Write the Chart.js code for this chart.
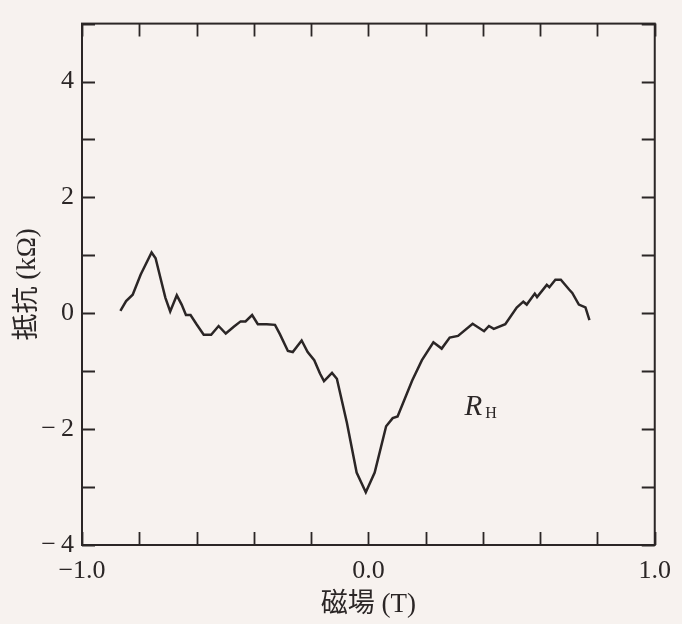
<!DOCTYPE html>
<html>
<head>
<meta charset="utf-8">
<script src="https://cdn.jsdelivr.net/npm/chart.js@4/dist/chart.umd.min.js"></script>
<style>
    html, body { margin: 0; padding: 0; background: #f7f2ef; }
    #wrap { width: 682px; height: 624px; }
</style>
</head>
<body>
<div id="wrap"><canvas id="hall_chart" width="682" height="624"></canvas></div>
<script>
// field sweep (T) and measured resistance (kΩ)
const fieldT = [
    -0.866, -0.846, -0.823, -0.795, -0.757, -0.743, -0.726, -0.709, -0.692, -0.669,
    -0.652, -0.637, -0.621, -0.600, -0.575, -0.549, -0.523, -0.498, -0.469, -0.446,
    -0.429, -0.406, -0.386, -0.355, -0.326, -0.309, -0.281, -0.264, -0.233, -0.212,
    -0.189, -0.169, -0.155, -0.127, -0.110, -0.075, -0.041, -0.009, 0.022, 0.062,
    0.085, 0.102, 0.153, 0.187, 0.227, 0.256, 0.284, 0.313, 0.364, 0.404,
    0.421, 0.438, 0.478, 0.518, 0.541, 0.553, 0.581, 0.589, 0.623, 0.632,
    0.653, 0.672, 0.701, 0.712, 0.735, 0.758, 0.772,
];
const resistance = [
    0.04, 0.21, 0.32, 0.67, 1.05, 0.95, 0.61, 0.27, 0.03, 0.31,
    0.15, -0.03, -0.03, -0.19, -0.37, -0.37, -0.22, -0.35, -0.23, -0.14,
    -0.14, -0.03, -0.19, -0.19, -0.20, -0.36, -0.65, -0.67, -0.47, -0.67,
    -0.81, -1.04, -1.17, -1.03, -1.13, -1.89, -2.75, -3.09, -2.75, -1.95,
    -1.81, -1.78, -1.16, -0.81, -0.50, -0.61, -0.42, -0.39, -0.18, -0.31,
    -0.22, -0.27, -0.19, 0.10, 0.20, 0.15, 0.34, 0.28, 0.49, 0.45,
    0.58, 0.58, 0.41, 0.35, 0.15, 0.10, -0.12,
];

// axis ranges and labelled ticks
const xRange = [-1, 1];
const yRange = [-4, 5];
const xTickLabels = { "-1": "\u22121.0", "0": "0.0", "1": "1.0" };
const yTickLabels = { "4": "4", "2": "2", "0": "0", "-2": "\u2212\u20092", "-4": "\u2212\u20094" };
const curveLabel = { x: 0.336, y: -1.76 };

const ink = "#2b2626";
const paper = "#f7f2ef";
const serif = "'Times New Roman', 'Liberation Serif', Times, serif";
const titleFamily = "'Times New Roman', 'Liberation Serif', 'Noto Sans CJK JP', serif";

const keyOf = (v) => String(Math.round(v * 1000) / 1000);

// paper colour, boxed frame with inward ticks, and the R_H tag
const framePlugin = {
    id: "frame",
    beforeDraw(chart) {
        const { ctx, width, height } = chart;
        ctx.save();
        ctx.fillStyle = paper;
        ctx.fillRect(0, 0, width, height);
        ctx.restore();
    },
    afterDraw(chart) {
        const { ctx, chartArea: a, scales } = chart;
        const len = 13;
        ctx.save();
        ctx.strokeStyle = ink;
        ctx.lineWidth = 2;
        ctx.strokeRect(a.left, a.top, a.right - a.left, a.bottom - a.top);

        ctx.lineWidth = 1.8;
        ctx.beginPath();
        scales.x.ticks.forEach((t) => {
            const px = Math.round(scales.x.getPixelForValue(t.value)) + 0.5;
            ctx.moveTo(px, a.bottom);
            ctx.lineTo(px, a.bottom - len);
            ctx.moveTo(px, a.top);
            ctx.lineTo(px, a.top + len);
        });
        scales.y.ticks.forEach((t) => {
            const py = Math.round(scales.y.getPixelForValue(t.value)) + 0.5;
            ctx.moveTo(a.left, py);
            ctx.lineTo(a.left + len, py);
            ctx.moveTo(a.right, py);
            ctx.lineTo(a.right - len, py);
        });
        ctx.stroke();

        // R with subscript H
        const lx = scales.x.getPixelForValue(curveLabel.x);
        const ly = scales.y.getPixelForValue(curveLabel.y);
        ctx.fillStyle = ink;
        ctx.textBaseline = "alphabetic";
        ctx.textAlign = "left";
        ctx.font = "italic 29px " + serif;
        ctx.fillText("R", lx, ly);
        const rw = ctx.measureText("R").width;
        ctx.font = "16px " + serif;
        ctx.fillText("H", lx + rw + 3, ly + 3);
        ctx.restore();
    },
};

const points = fieldT.map((x, i) => ({ x, y: resistance[i] }));

new Chart(document.getElementById("hall_chart"), {
    type: "line",
    data: {
        datasets: [
            {
                data: points,
                borderColor: ink,
                borderWidth: 2.5,
                pointRadius: 0,
                tension: 0,
                fill: false,
            },
        ],
    },
    options: {
        responsive: false,
        animation: false,
        events: [],
        layout: { padding: { top: 14, right: 17, bottom: 0, left: 0 } },
        plugins: {
            legend: { display: false },
            tooltip: { enabled: false },
        },
        scales: {
            x: {
                type: "linear",
                min: xRange[0],
                max: xRange[1],
                grid: { display: false, drawTicks: false },
                border: { display: false },
                afterFit: (s) => { s.height = 79; },
                ticks: {
                    stepSize: 0.2,
                    autoSkip: false,
                    maxRotation: 0,
                    padding: 11,
                    color: ink,
                    font: { family: serif, size: 26 },
                    callback: (v) => xTickLabels[keyOf(v)] ?? "",
                },
                title: {
                    display: true,
                    text: "磁場 (T)",
                    color: ink,
                    font: { family: titleFamily, size: 27 },
                    padding: { top: 0, bottom: 3 },
                },
            },
            y: {
                type: "linear",
                min: yRange[0],
                max: yRange[1],
                grid: { display: false, drawTicks: false },
                border: { display: false },
                afterFit: (s) => { s.width = 82; },
                ticks: {
                    stepSize: 1,
                    autoSkip: false,
                    padding: 8,
                    color: ink,
                    font: { family: serif, size: 26 },
                    callback: (v) => yTickLabels[keyOf(v)] ?? "",
                },
                title: {
                    display: true,
                    text: "抵抗 (kΩ)",
                    color: ink,
                    font: { family: titleFamily, size: 27 },
                    padding: { top: 12, bottom: 0 },
                },
            },
        },
    },
    plugins: [framePlugin],
});
</script>
</body>
</html>
